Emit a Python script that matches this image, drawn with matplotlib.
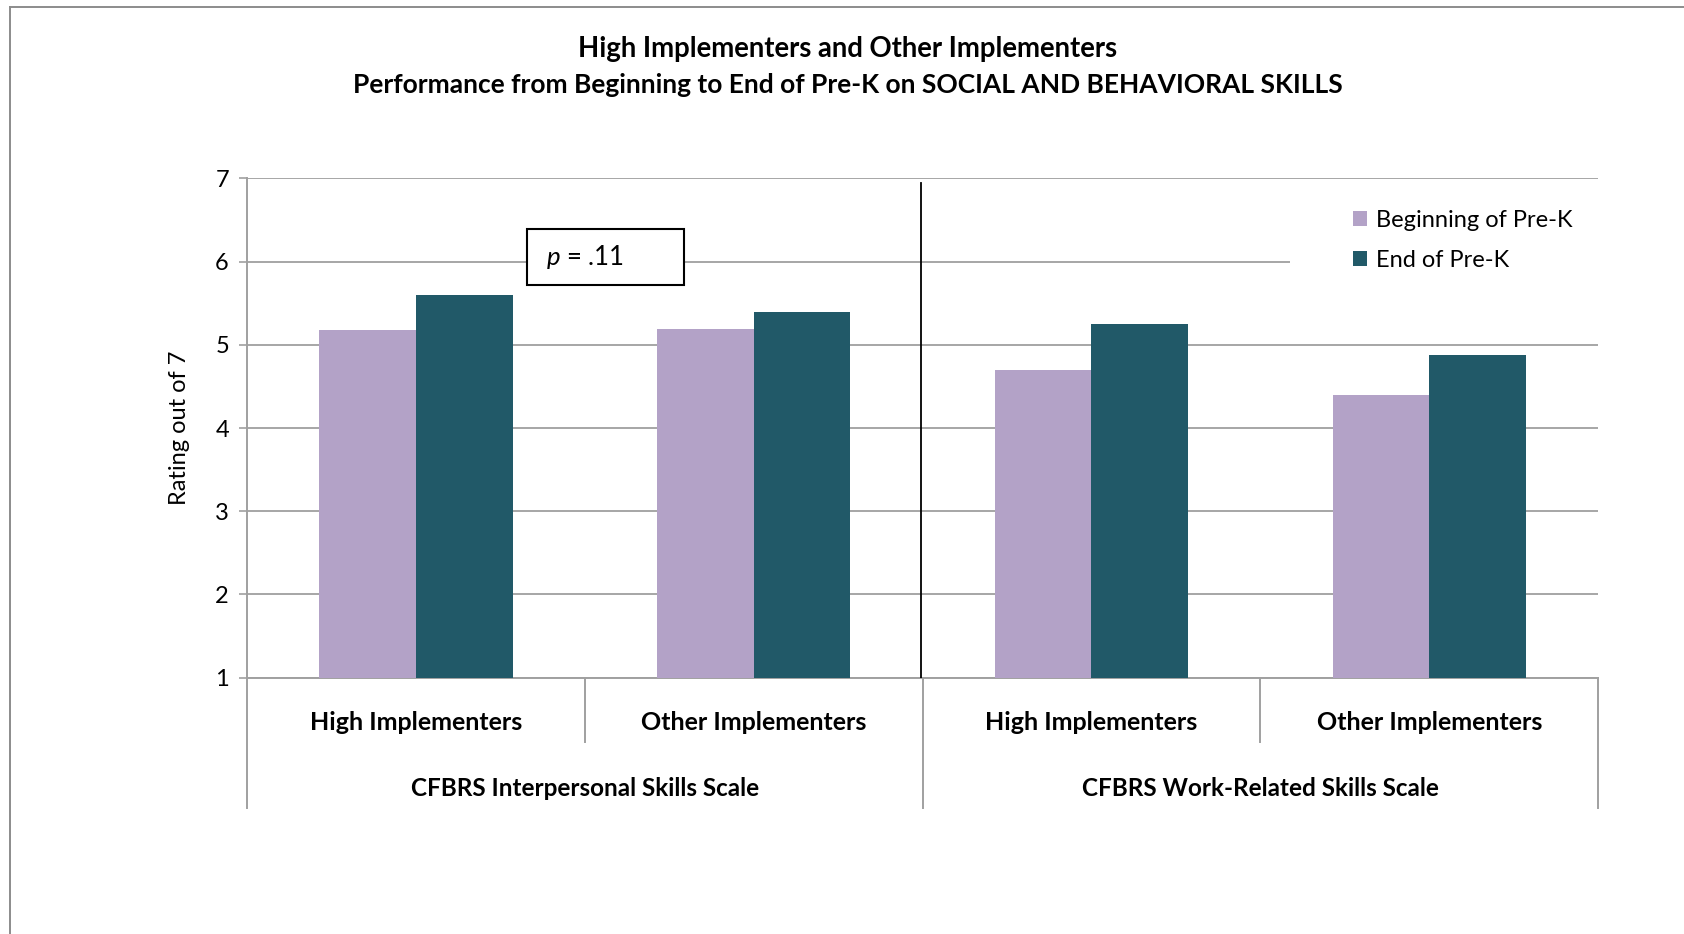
import matplotlib
matplotlib.use("Agg")
import matplotlib.pyplot as plt
from matplotlib.lines import Line2D
from matplotlib.patches import Rectangle
import numpy as np

plt.rcParams['font.family'] = ['Lato', 'DejaVu Sans']
plt.rcParams['mathtext.fontset'] = 'custom'
plt.rcParams['mathtext.rm'] = 'Lato'
plt.rcParams['mathtext.it'] = 'Lato:italic'

# data
groups = ['High Implementers', 'Other Implementers', 'High Implementers', 'Other Implementers']
scales = ['CFBRS Interpersonal Skills Scale', 'CFBRS Work-Related Skills Scale']
beginning = [5.18, 5.19, 4.70, 4.40]
end = [5.60, 5.40, 5.25, 4.88]
series_names = ['Beginning of Pre-K', 'End of Pre-K']
colors = ['#B3A2C7', '#215968']
y_ticks = [1, 2, 3, 4, 5, 6, 7]
p_text = '$p$ = .11'

fig = plt.figure(figsize=(16.84, 9.34), dpi=100)
ax = fig.add_axes([0.1467, 0.2744, 0.8023, 0.5346])

x = np.arange(len(groups))
w = 0.286
ax.bar(x - w / 2, beginning, w, bottom=0, color=colors[0], label=series_names[0], zorder=3)
ax.bar(x + w / 2, end, w, bottom=0, color=colors[1], label=series_names[1], zorder=3)

ax.set_xlim(-0.5, len(groups) - 0.5)
ax.set_ylim(1, 7)
ax.set_yticks(y_ticks)
ax.tick_params(axis='y', labelsize=17, length=6, width=1.2, color='#A0A0A0', pad=7)
ax.set_xticks([])
ax.yaxis.grid(True, color='#A6A6A6', linewidth=1.4, zorder=0)
ax.set_axisbelow(True)
for s in ['top', 'right']:
    ax.spines[s].set_visible(False)
for s in ['left', 'bottom']:
    ax.spines[s].set_color('#A0A0A0')
    ax.spines[s].set_linewidth(1.4)
ax.set_ylabel('Rating out of 7', fontsize=17, labelpad=18)

# divider between the two scales
ax.plot([1.494, 1.494], [1, 6.95], color='black', linewidth=1.3, zorder=4)

# two-level category axis
tr = ax.get_xaxis_transform()
for i, g in enumerate(groups):
    ax.text(x[i], -0.09, g, transform=tr, ha='center', va='center', fontsize=18, fontweight='bold')
for j, sc in enumerate(scales):
    ax.text(2 * j + 0.5, -0.222, sc, transform=tr, ha='center', va='center', fontsize=17.5, fontweight='bold')
for b in np.arange(-0.5, len(groups), 1.0):
    bottom_y = -0.261 if (b + 0.5) % 2 == 0 else -0.129
    ax.plot([b, b], [0, bottom_y], transform=tr, color='#A0A0A0', linewidth=1.4, clip_on=False)

# p-value box
ax.add_patch(Rectangle((0.330, 5.723), 0.464, 0.671, facecolor='white', edgecolor='black',
                       linewidth=1.5, zorder=5))
ax.text(0.385, 6.06, p_text, fontsize=18.5, ha='left', va='center', zorder=6)

# legend sits on a white patch that hides part of the 6 gridline
ax.add_patch(Rectangle((0.772, 0.80), 0.23, 0.14, transform=ax.transAxes, facecolor='white',
                       edgecolor='none', zorder=4, clip_on=False))
leg = ax.legend(loc='upper left', bbox_to_anchor=(0.8187, 0.937), frameon=False,
                fontsize=17, handlelength=0.6, handleheight=0.6, handletextpad=0.35,
                labelspacing=0.82, borderpad=0, borderaxespad=0)
leg.set_zorder(5)

fig.text(0.5035, 0.948, 'High Implementers and Other Implementers', ha='center', va='center',
         fontsize=19.8, fontweight='bold')
fig.text(0.5035, 0.909, 'Performance from Beginning to End of Pre-K on SOCIAL AND BEHAVIORAL SKILLS',
         ha='center', va='center', fontsize=19, fontweight='bold')

# outer chart frame (top and left edge)
fig.add_artist(Line2D([0.006, 1.0], [0.9925, 0.9925], color='#8C8C8C', linewidth=1.4))
fig.add_artist(Line2D([0.006, 0.006], [0.0, 0.9925], color='#8C8C8C', linewidth=1.4))

fig.savefig('out.png', dpi=100)
